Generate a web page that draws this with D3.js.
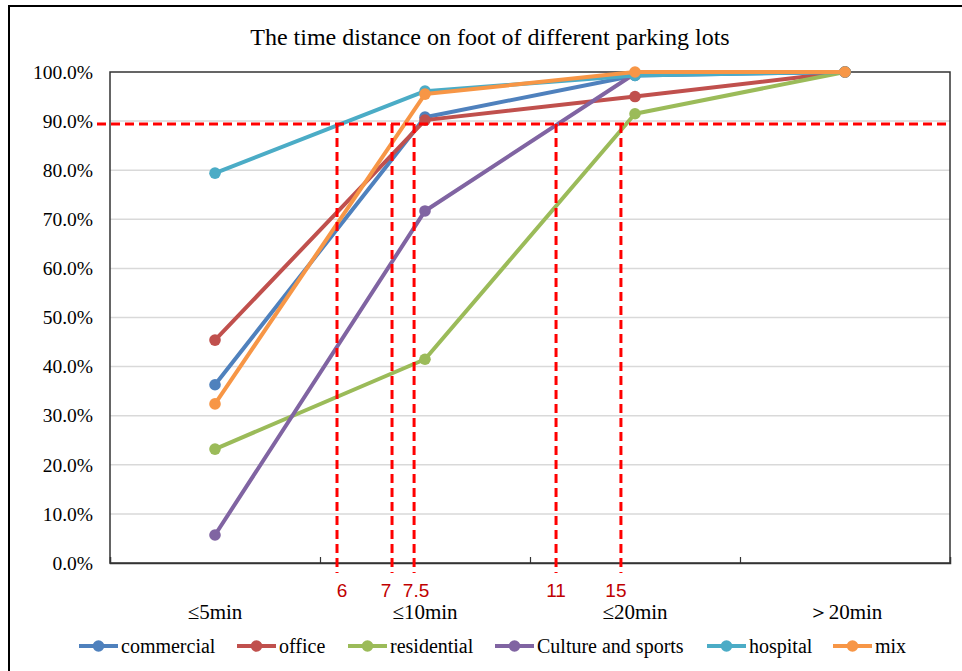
<!DOCTYPE html>
<html>
<head>
<meta charset="utf-8">
<script src="https://cdn.jsdelivr.net/npm/d3@7"></script>
<style>
body{margin:0;background:#fff;}
svg{display:block;}
</style>
</head>
<body>
<div id="chart"></div>
<script>
// walking time categories
var categories=["≤5min","≤10min","≤20min","＞20min"];

// cumulative share (%) per parking lot type
var seriesNames=["commercial","office","residential","Culture and sports","hospital","mix"];
var commercial=[36.3,90.8,99.3,100];
var office=[45.4,90.2,95.0,100];
var residential=[23.2,41.5,91.5,100];
var culture=[5.7,71.7,99.7,100];
var hospital=[79.4,96.1,99.3,100];
var mix=[32.4,95.5,100,100];
var seriesValues=[commercial,office,residential,culture,hospital,mix];
var seriesColors=["#4f81bd","#c0504d","#9bbb59","#8064a2","#4bacc6","#f79646"];

var yTicks=[0,10,20,30,40,50,60,70,80,90,100];

// 90% reference line and the minutes where it is reached (position as category index)
var refLevel=89.4;
var refLabels=["6","7","7.5","11","15"];
var refPos=[0.581,0.843,0.948,1.624,1.933];
var refLabelNudge=[5,-6,2,0,-5]; //px, keeps labels from crowding

var W=962,H=671;
var margin={left:110,right:12,top:72,bottom:108};
var plotW=W-margin.left-margin.right, plotH=H-margin.top-margin.bottom;
var serif="'Liberation Serif','Times New Roman',serif";

var svg=d3.select("#chart").append("svg").attr("width",W).attr("height",H);

// outer frame
svg.append("rect").attr("x",9).attr("y",6).attr("width",970).attr("height",700)
	.attr("fill","none").attr("stroke","#000").attr("stroke-width",2);

svg.append("text").attr("x",490).attr("y",45).attr("text-anchor","middle")
	.style("font-family",serif).style("font-size","24px")
	.text("The time distance on foot of different parking lots");

var g=svg.append("g").attr("transform","translate("+margin.left+","+margin.top+")");

var x=d3.scaleBand().domain(categories).range([0,plotW]);
var xi=d3.scaleLinear().domain([-0.5,categories.length-0.5]).range([0,plotW]); //index -> px
var y=d3.scaleLinear().domain([0,100]).range([plotH,0]);

//gridlines
g.selectAll(".grid").data(yTicks.filter(function(d){return d>0&&d<100;}))
	.enter().append("line")
	.attr("x1",0).attr("x2",plotW)
	.attr("y1",function(d){return y(d);}).attr("y2",function(d){return y(d);})
	.attr("stroke","#d9d9d9").attr("stroke-width",1.5);

//plot frame
g.append("rect").attr("width",plotW).attr("height",plotH)
	.attr("fill","none").attr("stroke","#333").attr("stroke-width",1.5);

//y axis labels
var yAxis=d3.axisLeft(y).tickValues(yTicks).tickSize(0).tickPadding(17)
	.tickFormat(function(d){return d.toFixed(1)+"%";});
var yG=g.append("g").call(yAxis);
yG.select(".domain").remove();
yG.selectAll("text").style("font-family",serif)
	.style("font-size","19.5px").attr("fill","#000");

//x axis: tick marks at band boundaries
var xAxis=d3.axisBottom(xi).tickValues([0.5,1.5,2.5]).tickSize(-6).tickFormat("");
var xG=g.append("g").attr("transform","translate(0,"+plotH+")").call(xAxis);
xG.select(".domain").attr("stroke","#333").attr("stroke-width",1.5);
xG.selectAll("line").attr("stroke","#333").attr("stroke-width",1.2);

g.selectAll(".cat").data(categories).enter().append("text")
	.attr("x",function(d){return x(d)+x.bandwidth()/2;})
	.attr("y",plotH+56)
	.attr("text-anchor","middle")
	.style("font-family",serif).style("font-size","21px")
	.text(function(d){return d;});

//series
var line=d3.line()
	.x(function(d,i){return x(categories[i])+x.bandwidth()/2;})
	.y(function(d){return y(d);});

seriesValues.forEach(function(vals,k){
	var sg=g.append("g");
	sg.append("path").datum(vals).attr("d",line)
		.attr("fill","none").attr("stroke",seriesColors[k]).attr("stroke-width",4)
		.attr("stroke-linejoin","round");
	sg.selectAll("circle").data(vals).enter().append("circle")
		.attr("cx",function(d,i){return x(categories[i])+x.bandwidth()/2;})
		.attr("cy",function(d){return y(d);})
		.attr("r",5.8).attr("fill",seriesColors[k]);
});

//red dashed reference lines
var refG=g.append("g");
refG.append("line").attr("x1",-13).attr("x2",plotW)
	.attr("y1",y(refLevel)).attr("y2",y(refLevel))
	.attr("stroke","#ff0000").attr("stroke-width",3).attr("stroke-dasharray","9,5");
refG.selectAll(".vref").data(refPos).enter().append("line")
	.attr("x1",function(d){return xi(d);}).attr("x2",function(d){return xi(d);})
	.attr("y1",y(refLevel)).attr("y2",plotH+10)
	.attr("stroke","#ff0000").attr("stroke-width",3).attr("stroke-dasharray","9,5");
refG.selectAll(".vlab").data(refLabels).enter().append("text")
	.attr("x",function(d,i){return xi(refPos[i])+refLabelNudge[i];})
	.attr("y",plotH+34)
	.attr("text-anchor","middle")
	.style("font-family","'Liberation Sans',Arial,sans-serif").style("font-size","19px")
	.attr("fill","#c00000")
	.text(function(d){return d;});

//legend
var legX=[79,237,348,495,707,833];
var leg=svg.append("g").attr("transform","translate(0,646)");
seriesNames.forEach(function(name,k){
	var lg=leg.append("g").attr("transform","translate("+legX[k]+",0)");
	lg.append("line").attr("x1",0).attr("x2",39).attr("y1",0).attr("y2",0)
		.attr("stroke",seriesColors[k]).attr("stroke-width",4);
	lg.append("circle").attr("cx",19.5).attr("cy",0).attr("r",5.8).attr("fill",seriesColors[k]);
	lg.append("text").attr("x",42).attr("y",7)
		.style("font-family",serif).style("font-size","20px")
		.text(name);
});
</script>
</body>
</html>
